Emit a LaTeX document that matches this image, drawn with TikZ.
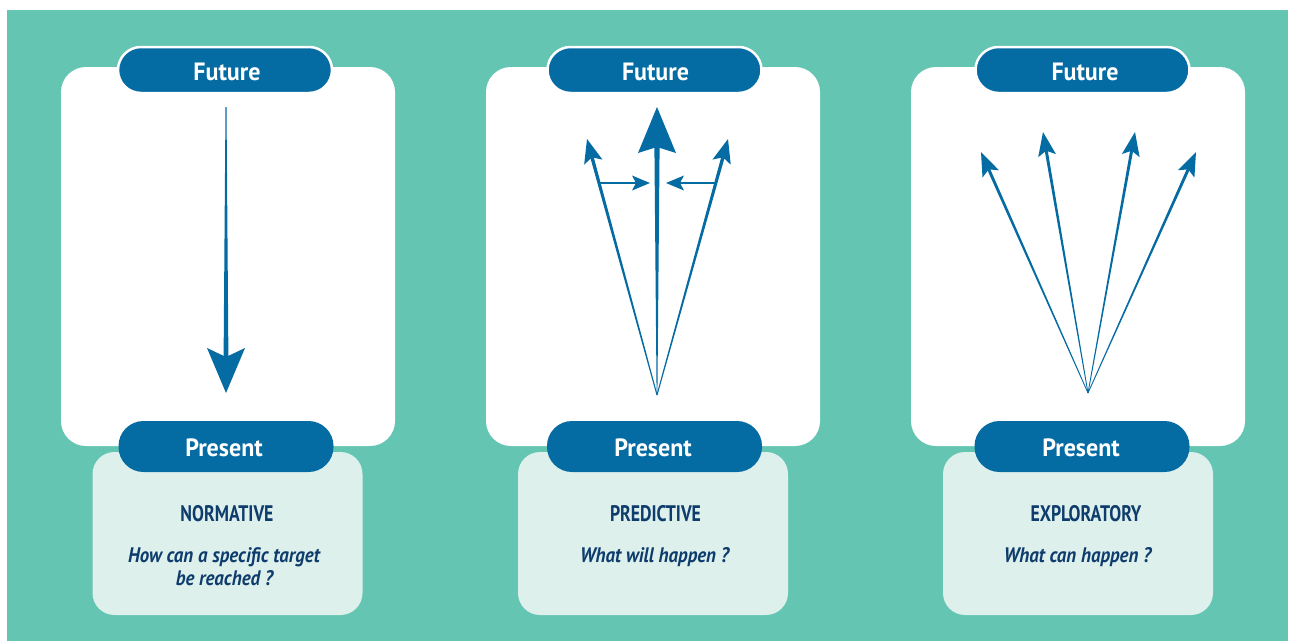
\documentclass[tikz,border=0pt]{standalone}
\usepackage{fontspec}
\setmainfont{PT Sans}
\newfontfamily\pillfont[FakeStretch=0.96]{PT Sans Bold}
\newfontfamily\condfont[FakeStretch=0.79]{PT Sans Bold}
\newfontfamily\qfont[FakeStretch=0.9]{PT Sans Bold Italic}
\usetikzlibrary{calc}
\definecolor{bgteal}{HTML}{63C5B2}
\definecolor{pblue}{HTML}{056BA3}
\definecolor{lightbox}{HTML}{DEF0EC}
\definecolor{navy}{HTML}{0E3C6C}
% tapered arrow: #1 tail, #2 tip, #3 head length, #4 head half width, #5 notch distance, #6 shaft half width at head, #7 tail half width
\newcommand{\tarrow}[7]{%
  \path ($(#2)!#3!(#1)$) coordinate (hb) ($(#2)!#5!(#1)$) coordinate (hn);
  \fill[pblue] ($(#1)!#7!90:(#2)$) -- ($(hn)!#6!-90:(#1)$) -- ($(hn)!#6!90:(#1)$) -- ($(#1)!#7!-90:(#2)$) -- cycle;
  \fill[pblue] (#2) -- ($(hb)!#4!90:(#2)$) -- (hn) -- ($(hb)!#4!-90:(#2)$) -- cycle;
}
\begin{document}
\begin{tikzpicture}[x=1pt,y=-1pt,
  panel/.style={fill=white, rounded corners=25pt, minimum width=334pt, minimum height=379pt, inner sep=0pt},
  futurepill/.style={fill=pblue, draw=white, line width=2.5pt, rounded corners=23pt, minimum width=214pt, minimum height=46pt, inner sep=0pt},
  presentpill/.style={fill=pblue, rounded corners=25pt, minimum width=215pt, minimum height=51pt, inner sep=0pt},
  infobox/.style={fill=lightbox, rounded corners=22pt, minimum width=270pt, minimum height=163pt, inner sep=0pt},
  pilltext/.style={anchor=base, text=white, font=\pillfont\fontsize{25}{30}\selectfont, inner sep=0pt},
  titletext/.style={anchor=base, text=navy, font=\condfont\fontsize{22.5}{27}\selectfont, inner sep=0pt},
  questiontext/.style={anchor=base, text=navy, font=\qfont\fontsize{21}{25}\selectfont, inner sep=0pt, align=center}
]
\useasboundingbox (0,0) rectangle (1291,641);
\fill[white] (0,0) rectangle (1291,641);
\fill[bgteal] (7,10) rectangle (1288,641);

% panels
\node[panel] (p1) at (228,256.5) {};
\node[panel] (p2) at (653,256.5) {};
\node[panel] (p3) at (1078,256.5) {};

\node[infobox] (b1) at (227.5,533.5) {};
\node[infobox] (b2) at (653,533.5) {};
\node[infobox] (b3) at (1078,533.5) {};

\node[futurepill] (f1) at (225,70) {};
\node[futurepill] (f2) at (654.5,70) {};
\node[futurepill] (f3) at (1082.5,70) {};
\node[pilltext] (ft1) at (227,80) {Future};
\node[pilltext] (ft2) at (655.5,80) {Future};
\node[pilltext] (ft3) at (1085,80) {Future};

\node[presentpill] (s1) at (226,446.5) {};
\node[presentpill] (s2) at (654.5,446.5) {};
\node[presentpill] (s3) at (1082,446.5) {};
\node[pilltext] (st1) at (224,456) {Present};
\node[pilltext] (st2) at (653,456) {Present};
\node[pilltext] (st3) at (1081,456) {Present};

\node[titletext] (t1) at (227,521) {NORMATIVE};
\node[titletext] (t2) at (655.5,521) {PREDICTIVE};
\node[titletext] (t3) at (1086,521) {EXPLORATORY};
\node[questiontext] (q1) at (224,562) {How can a specific target};
\node[questiontext] (q1b) at (224.5,585.5) {be reached ?};
\node[questiontext] (q2) at (654.5,562) {What will happen ?};
\node[questiontext] (q3) at (1077.5,562) {What can happen ?};

% panel 1 arrow
\coordinate (n0) at (226,107);
\coordinate (n1) at (226,393);
\tarrow{n0}{n1}{45pt}{19pt}{36pt}{2.4pt}{0.5pt}

% panel 2 arrows
\coordinate (o2) at (657,395);
\coordinate (c2) at (657,107);
\coordinate (l2) at (587,139);
\coordinate (r2) at (728,139);
\tarrow{o2}{c2}{46pt}{19pt}{40pt}{2.6pt}{0.4pt}
\tarrow{o2}{l2}{24pt}{9.5pt}{19pt}{1.7pt}{0.5pt}
\tarrow{o2}{r2}{24pt}{9.5pt}{19pt}{1.7pt}{0.5pt}
\coordinate (hl0) at (599.5,183);
\coordinate (hl1) at (650,183);
\coordinate (hr0) at (716,183);
\coordinate (hr1) at (666,183);
\tarrow{hl0}{hl1}{18pt}{7.5pt}{14pt}{0.9pt}{0.9pt}
\tarrow{hr0}{hr1}{18pt}{7.5pt}{14pt}{0.9pt}{0.9pt}

% panel 3 arrows
\coordinate (o3) at (1088,393);
\coordinate (e1) at (981,152);
\coordinate (e2) at (1043,132);
\coordinate (e3) at (1135,132);
\coordinate (e4) at (1196,152);
\tarrow{o3}{e1}{24pt}{9pt}{19pt}{1.5pt}{0.4pt}
\tarrow{o3}{e2}{24pt}{9pt}{19pt}{1.5pt}{0.4pt}
\tarrow{o3}{e3}{24pt}{9pt}{19pt}{1.5pt}{0.4pt}
\tarrow{o3}{e4}{24pt}{9pt}{19pt}{1.5pt}{0.4pt}
\end{tikzpicture}
\end{document}
